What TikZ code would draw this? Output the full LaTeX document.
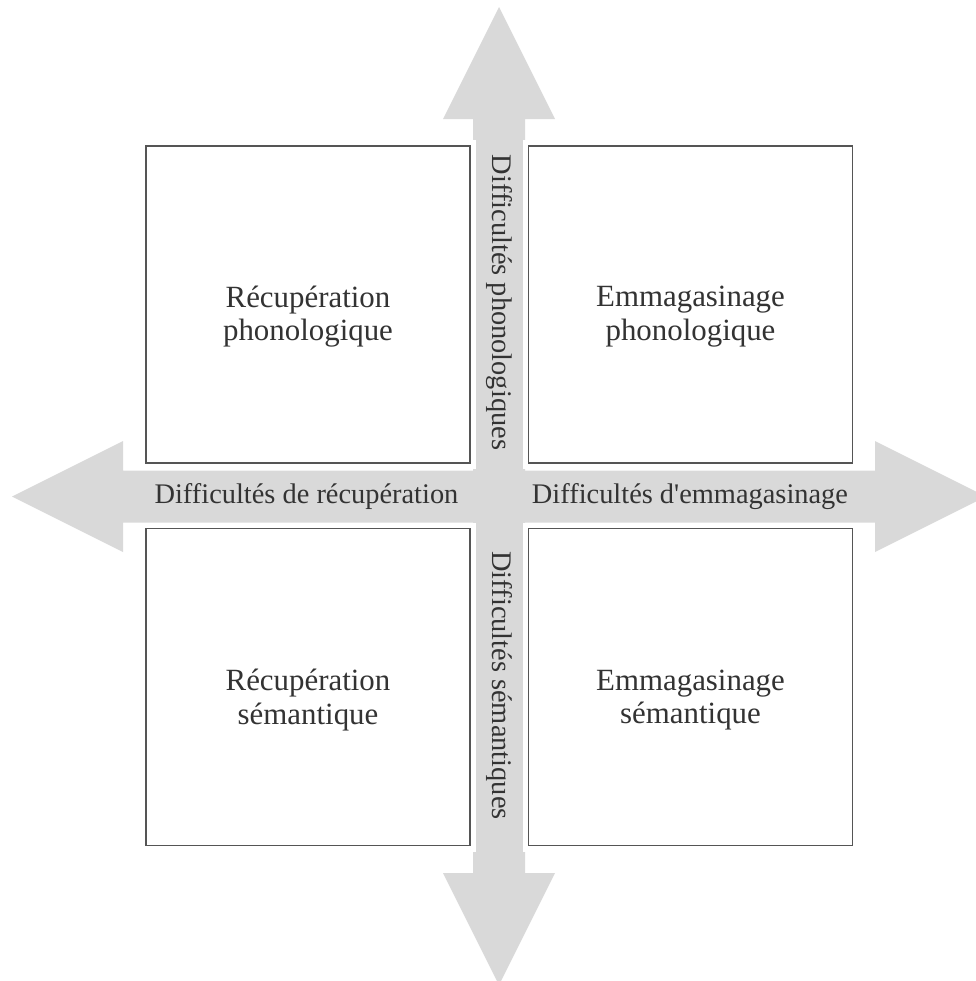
\documentclass[tikz,border=0pt]{standalone}
\usepackage{fontspec}
\setmainfont{Liberation Serif}
\definecolor{flechegris}{HTML}{D9D9D9}
\definecolor{bordgris}{HTML}{555555}
\definecolor{textegris}{HTML}{333333}
\tikzset{
  boite/.style={draw=bordgris, line width=1.5bp, fill=white,
    minimum width=324bp, minimum height=317bp,
    preaction={draw=white, line width=12bp}},
  textecase/.style={align=center, text=textegris, inner sep=0pt,
    font=\fontsize{31}{33.5}\selectfont},
  axe/.style={text=textegris, font=\fontsize{28.5}{32}\selectfont, inner sep=0pt}
}

\begin{document}
\begin{tikzpicture}[x=1bp, y=-1bp]
    \useasboundingbox (0,0) rectangle (976,981);

    % Flèche horizontale
    \fill[flechegris] (12,496.5) -- (123,441) -- (123,470.5) -- (875,470.5) -- (875,441)
        -- (986,496.5) -- (875,552) -- (875,522.5) -- (123,522.5) -- (123,552) -- cycle;
    % Flèche verticale
    \fill[flechegris] (499,7) -- (555,119) -- (525,119) -- (525,873) -- (555,873)
        -- (499,985) -- (443,873) -- (473,873) -- (473,119) -- (443,119) -- cycle;

    % Cases
    \node[boite] (recphon) at (308,304.5) {};
    \node[boite] (emphon) at (690.5,304.5) {};
    \node[boite] (recsem) at (308,687) {};
    \node[boite] (emsem) at (690.5,687) {};

    % Textes des cases
    \node[textecase, yshift=-12bp] (trecphon) at (recphon.center) {Récupération\\phonologique};
    \node[textecase, yshift=-12bp] (temphon) at (emphon.center) {Emmagasinage\\phonologique};
    \node[textecase, yshift=-13bp] (trecsem) at (recsem.center) {Récupération\\sémantique};
    \node[textecase, yshift=-13bp] (temsem) at (emsem.center) {Emmagasinage\\sémantique};

    % Étiquettes des axes
    \node[axe] (drec) at (306.5,497) {Difficultés de récupération};
    \node[axe] (demm) at (690,497) {Difficultés d\textquotesingle emmagasinage};
    \node[axe, rotate=-90] (dphon) at (499.5,302.5) {Difficultés phonologiques};
    \node[axe, rotate=-90] (dsem) at (499.5,685.5) {Difficultés sémantiques};
\end{tikzpicture}
\end{document}
